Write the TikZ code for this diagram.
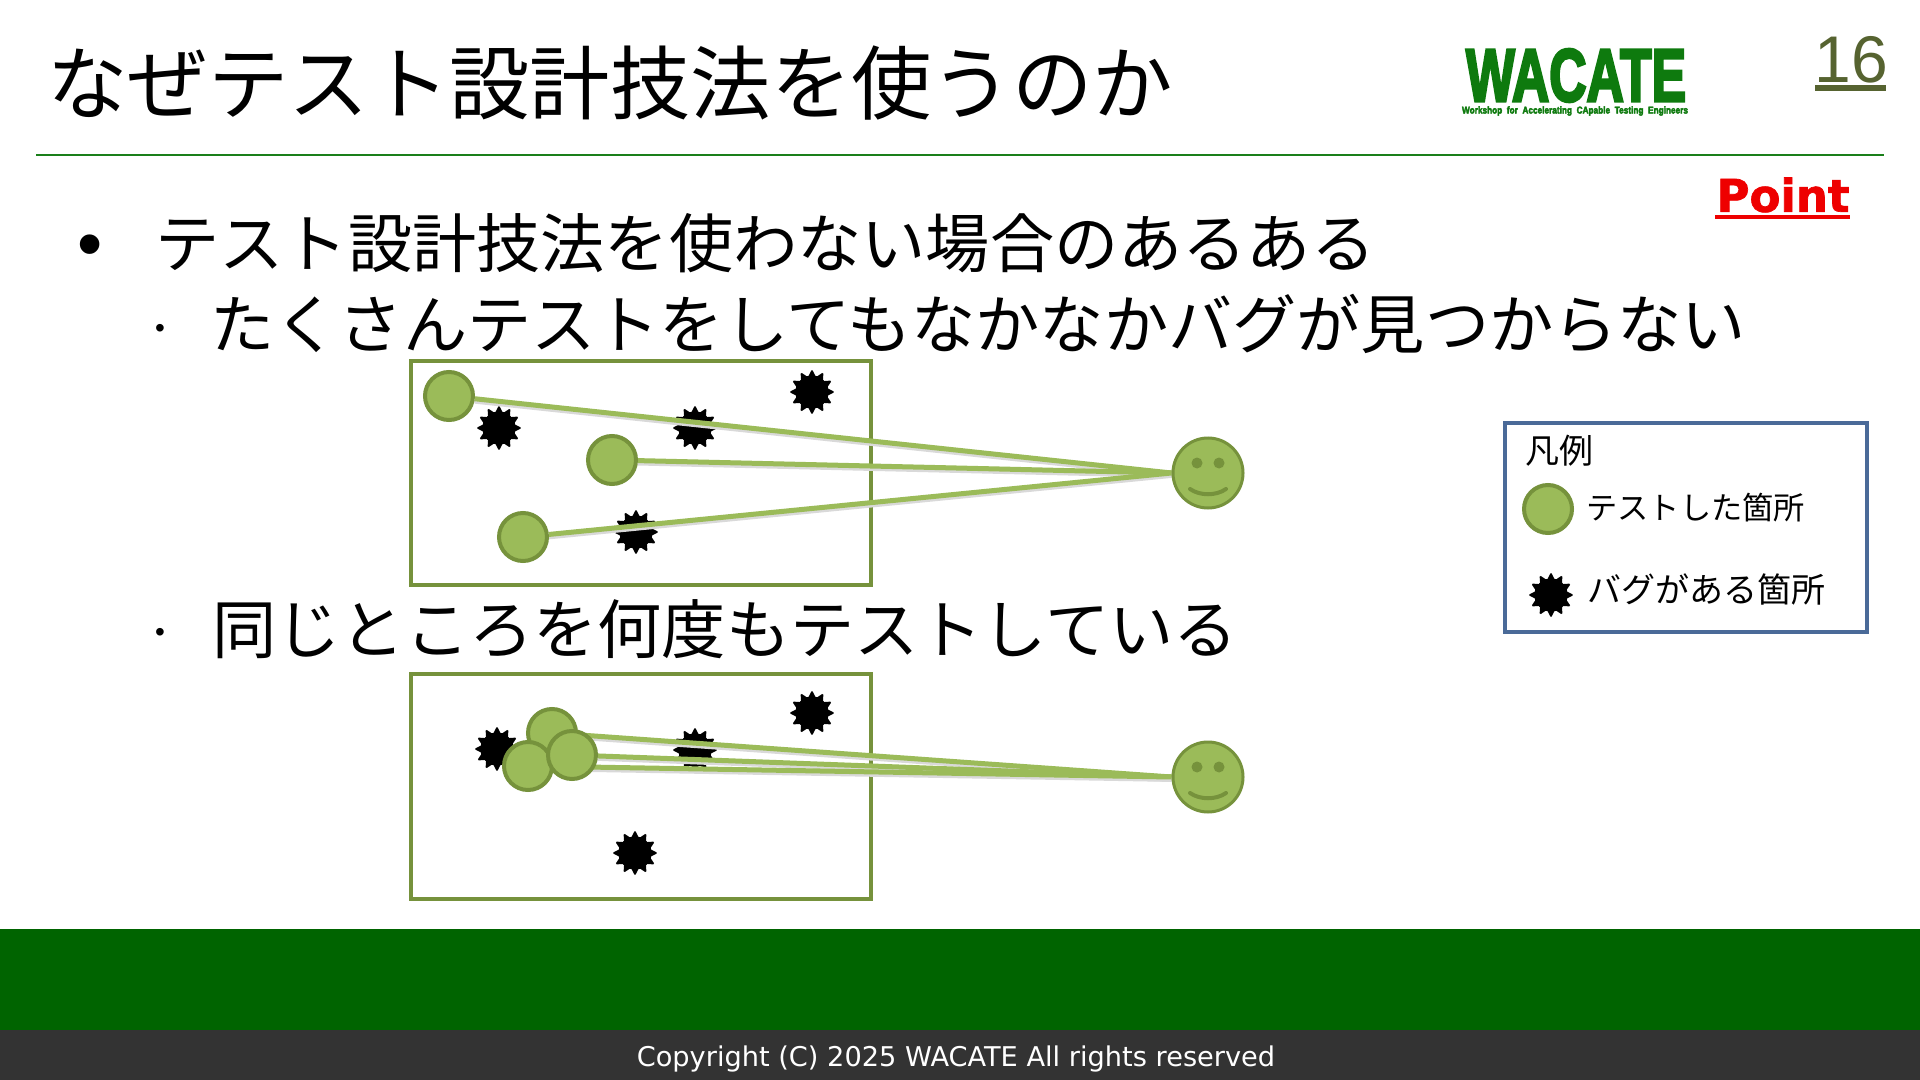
\documentclass[tikz,border=0pt]{standalone}
\usepackage{fontspec}
\usepackage{xcolor}
\setmainfont{Noto Sans CJK JP}
\newfontfamily\logofont[BoldFeatures={FakeBold=4}]{Liberation Sans}
\newfontfamily\numfont{Liberation Sans}
\newfontfamily\pointfont[BoldFeatures={FakeBold=1.5}]{DejaVu Sans}
\newfontfamily\footfont{DejaVu Sans}
\usetikzlibrary{backgrounds,shapes.geometric}
\definecolor{barGreen}{HTML}{006400}
\definecolor{footGray}{HTML}{333333}
\definecolor{ruleGreen}{HTML}{1A7F1A}
\definecolor{logoGreen}{HTML}{0E7A0E}
\definecolor{numOlive}{HTML}{566330}
\definecolor{pointRed}{HTML}{EE0000}
\definecolor{testFill}{HTML}{9BBB59}
\definecolor{testEdge}{HTML}{76923C}
\definecolor{legendEdge}{HTML}{4A6A98}
\tikzset{
  titletext/.style={anchor=west,inner sep=0pt,font=\fontsize{40.2pt}{48pt}\selectfont},
  itemtext/.style={anchor=west,inner sep=0pt,font=\fontsize{32.1pt}{38pt}\selectfont},
  legendtext/.style={anchor=west,inner sep=0pt,font=\fontsize{16pt}{19pt}\selectfont},
  subbullet/.style={inner sep=0pt,font=\numfont\fontsize{14pt}{17pt}\selectfont},
  testdot/.style={circle,draw=testEdge,fill=testFill,line width=2pt,minimum size=24pt,inner sep=0pt},
  bugmark/.style={star,star points=12,star point ratio=1.5,fill=black,minimum size=23pt,inner sep=0pt,rounded corners=0.8pt},
  facedot/.style={circle,draw=testEdge,fill=testFill,line width=1.5pt,minimum size=35pt,inner sep=0pt},
  framebox/.style={draw=testEdge,line width=2pt},
  testline/.style={draw=testFill,line width=2.5pt,preaction={draw=black!15,line width=2.5pt,transform canvas={yshift=-1.2pt}}},
  pics/smileface/.style={code={
    \fill[testEdge] (-11,-10) circle (5.5);
    \fill[testEdge] (11,-10) circle (5.5);
    \draw[testEdge,line width=2pt,line cap=round] (-18,16) .. controls (-8,23) and (8,23) .. (18,16);
  }}
}
\begin{document}
\begin{tikzpicture}[x=0.5pt,y=-0.5pt]
      \useasboundingbox (0,0) rectangle (1920,1080);
      \fill[barGreen] (0,929) rectangle (1920,1030);
      \fill[footGray] (0,1030) rectangle (1920,1080);
      \node[font=\footfont\fontsize{13.6pt}{17pt}\selectfont,text=white,inner sep=0pt] (copyright) at (956,1059) {Copyright (C) 2025 WACATE All rights reserved};
      \node[titletext] (title) at (47,83) {なぜテスト設計技法を使うのか};
      \draw[ruleGreen,line width=1pt] (36,155) -- (1884,155);
      \node[inner sep=0pt,text=logoGreen] (logo) at (1576,75.5) {\resizebox{110pt}{26pt}{\logofont\bfseries WACATE}};
      \node[inner sep=0pt,text=logoGreen] (logosub) at (1575,111) {\resizebox{113pt}{3.6pt}{\logofont\bfseries Workshop\ \ for\ \ Accelerating\ \ CApable\ \ Testing\ \ Engineers}};
      \node[inner sep=0pt,text=numOlive,font=\numfont\fontsize{33pt}{40pt}\selectfont] (pagenum) at (1851,60) {16};
      \draw[numOlive,line width=3pt] (1815,88) -- (1886,88);
      \node[inner sep=0pt,text=pointRed,font=\pointfont\bfseries\fontsize{22.5pt}{27pt}\selectfont] (point) at (1783,195) {Point};
      \draw[pointRed,line width=2pt] (1715,217) -- (1850,217);
      \node[inner sep=0pt,font=\numfont\fontsize{36pt}{42pt}\selectfont] (bullet0) at (90,252) {•};
      \node[itemtext] (item0) at (155,243) {テスト設計技法を使わない場合のあるある};
      \node[subbullet] (bullet1) at (160,331) {•};
      \node[itemtext] (item1) at (210,324) {たくさんテストをしてもなかなかバグが見つからない};
      \node[subbullet] (bullet2) at (160,635) {•};
      \node[itemtext] (item2) at (212,629) {同じところを何度もテストしている};
      \node[testdot] (c1) at (449,396) {};
      \node[testdot] (c2) at (612,460) {};
      \node[testdot] (c3) at (523,537) {};
      \node[facedot] (smile1) at (1208,473) {};
      \pic at (smile1) {smileface};
      \node[testdot] (d1) at (552,733) {};
      \node[testdot] (d2) at (528,766) {};
      \node[testdot] (d3) at (572,755) {};
      \node[facedot] (smile2) at (1208,777) {};
      \pic at (smile2) {smileface};
      \begin{scope}[on background layer]
        \fill[white] (0,0) rectangle (1920,1080);
        \draw[framebox] (411,361) rectangle (871,585);
        \draw[framebox] (411,674) rectangle (871,899);
        \node[bugmark] (b1) at (499,428) {};
        \node[bugmark] (b2) at (695,428) {};
        \node[bugmark] (b3) at (812,392) {};
        \node[bugmark] (b4) at (636,532) {};
        \node[bugmark] (g1) at (497,749) {};
        \node[bugmark] (g2) at (695,750) {};
        \node[bugmark] (g3) at (812,713) {};
        \node[bugmark] (g4) at (635,853) {};
        \draw[testline] (c1) -- (smile1.west);
        \draw[testline] (c2) -- (smile1.west);
        \draw[testline] (c3) -- (smile1.west);
        \draw[testline] (d1) -- (smile2.west);
        \draw[testline] (d3) -- (smile2.west);
        \draw[testline] (d2) -- (smile2.west);
      \end{scope}
      \draw[legendEdge,line width=2pt] (1505,423) rectangle (1867,632);
      \node[legendtext,font=\fontsize{17pt}{20pt}\selectfont] (legendhead) at (1525,451) {凡例};
      \node[testdot] (legenddot) at (1548,509) {};
      \node[legendtext,font=\fontsize{15.6pt}{19pt}\selectfont] (legendone) at (1586,508) {テストした箇所};
      \node[bugmark] (legendbug) at (1551,595) {};
      \node[legendtext,font=\fontsize{17pt}{20pt}\selectfont] (legendtwo) at (1587,589) {バグがある箇所};
    \end{tikzpicture}
\end{document}
